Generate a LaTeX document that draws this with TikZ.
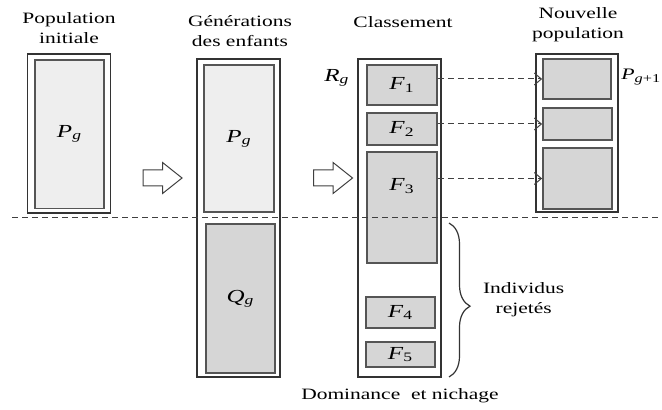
\documentclass[tikz,border=0pt]{standalone}
\usepackage{fontspec}
\setmainfont{Liberation Serif}[FakeStretch=1.36]
\usepackage{tikz}
\usetikzlibrary{arrows.meta, positioning, shapes.arrows, decorations.pathreplacing}
\definecolor{pop-light}{RGB}{238, 238, 238}
\definecolor{pop-dark}{RGB}{214, 214, 214}
\definecolor{pop-edge}{RGB}{85, 85, 85}
\newcommand{\varlab}[2]{\textit{#1}\textsubscript{#2}}

\begin{document}
\begin{tikzpicture}[x=0.5pt, y=-0.5pt,
    title/.style={align=center, font=\fontsize{7.9}{10}\selectfont},
    sym/.style={font=\fontsize{9.2}{11}\selectfont},
    outer/.style={rectangle, draw=black!80, line width=0.6pt, inner sep=0pt},
    light/.style={rectangle, draw=pop-edge, fill=pop-light, line width=0.9pt,
                  inner sep=0pt, font=\fontsize{9.2}{11}\selectfont},
    dark/.style={light, fill=pop-dark},
    blockarr/.style={single arrow, draw=black!75, line width=0.5pt, fill=white,
                     inner sep=3.75pt, single arrow head extend=3.75pt,
                     single arrow tip angle=77, minimum height=19.5pt},
    sel/.style={-{Straight Barb[length=3.5pt, width=6pt]}, dash pattern=on 3pt off 2pt,
                color=black!75, line width=0.5pt}
  ]
    \useasboundingbox (0,0) rectangle (662,410);

    % initial population
    \node[outer, minimum width=41.3pt, minimum height=79.5pt] (popout) at (69,133.5) {};
    \node[light, minimum width=34.8pt, minimum height=74.3pt] (popin) at (69.5,134.3) {\varlab{P}{\textit{g}}};

    % children
    \node[outer, minimum width=41.5pt, minimum height=159pt] (genout) at (238.5,218) {};
    \node[light, minimum width=35pt, minimum height=73.5pt] (genP) at (239,138.5) {\varlab{P}{\textit{g}}};
    \node[dark, minimum width=34.5pt, minimum height=74.5pt] (genQ) at (240.5,298.5) {\varlab{Q}{\textit{g}}};

    % ranking into fronts
    \node[outer, minimum width=41.5pt, minimum height=159pt] (rankout) at (399.5,218) {};
    \node[dark, minimum width=35pt, minimum height=20pt] (F1) at (402,85) {\varlab{F}{1}};
    \node[dark, minimum width=35pt, minimum height=16pt] (F2) at (402,129) {\varlab{F}{2}};
    \node[dark, minimum width=35pt, minimum height=55.5pt] (F3) at (402,207.5) {};
    \node[sym] (F3lab) at (402,186) {\varlab{F}{3}};
    \node[dark, minimum width=34.5pt, minimum height=15.5pt] (F4) at (400.5,312.5) {\varlab{F}{4}};
    \node[dark, minimum width=34.5pt, minimum height=12.5pt] (F5) at (400.5,354.5) {\varlab{F}{5}};
    \node[sym, left=0.5pt of rankout.north west, anchor=east, yshift=-9.5pt] (Rg) {\varlab{R}{\textit{g}}};

    % new population
    \node[outer, minimum width=41pt, minimum height=79pt] (newout) at (577,133) {};
    \node[dark, minimum width=34pt, minimum height=20pt] (N1) at (577,79) {};
    \node[dark, minimum width=34.5pt, minimum height=16pt] (N2) at (577.5,124) {};
    \node[dark, minimum width=34.5pt, minimum height=30.5pt] (N3) at (577.5,178.5) {};
    \node[sym, anchor=west, inner sep=0pt, font=\fontsize{8}{10}\selectfont] (Pnext) at (621,77) {\varlab{P}{\textit{g}+1}};

    \draw[sel] (F1.east |- N1.west) -- (N1.west);
    \draw[sel] (F2.east |- N2.west) -- (N2.west);
    \draw[sel] (F3.east |- N3.west) -- (N3.west);

    \node[blockarr] (a1) at (157.5,178) {};
    \node[blockarr] (a2) at (328,178) {};

    % cut line
    \draw[dash pattern=on 3pt off 2pt, color=black!75, line width=0.5pt] (12,217.5) -- (662,217.5);

    % rejected fronts
    \coordinate (btop) at (449,223);
    \coordinate (bbot) at (449,377);
    \draw[decorate, decoration={brace, amplitude=10.5pt, aspect=0.54}, line width=0.6pt, color=black!80] (btop) -- (bbot);
    \node[title, anchor=west] (rej) at (476,300) {Individus\\rejetés};

    % titles
    \node[title] (t1) at (69,28) {Population\\initiale};
    \node[title] (t2) at (240,31) {Générations\\des enfants};
    \node[title] (t3) at (403,22) {Classement};
    \node[title] (t4) at (578,25) {Nouvelle\\population};
    \node[title] (t5) at (400,396) {Dominance\ \ et nichage};
  \end{tikzpicture}
\end{document}
